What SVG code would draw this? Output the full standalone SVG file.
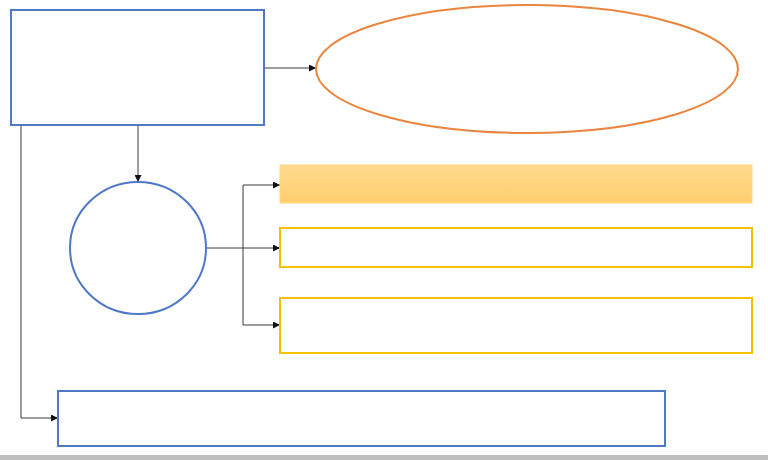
<svg xmlns="http://www.w3.org/2000/svg" width="768" height="460" viewBox="0 0 768 460">
  <defs>
    <marker id="arrow" viewBox="0 0 10 10" refX="10" refY="5" markerWidth="7" markerHeight="7" markerUnits="userSpaceOnUse" orient="auto">
      <path d="M0,0 L10,5 L0,10 z" fill="#111"/>
    </marker>
    <linearGradient id="barFill" x1="0" y1="0" x2="0" y2="1">
      <stop offset="0" stop-color="#FFD98E"/>
      <stop offset="1" stop-color="#FFCE6E"/>
    </linearGradient>
    <style>
      .blue { fill: #fff; stroke: #4F78C6; stroke-width: 2; }
      .orange { fill: #fff; stroke: #E9853F; stroke-width: 2; }
      .yellow { fill: #fff; stroke: #F2C200; stroke-width: 2; }
      .link { fill: none; stroke: #3a3a3a; stroke-width: 1; }
    </style>
  </defs>
  <rect width="768" height="460" fill="#fff"/>
  <rect x="0" y="455" width="768" height="5" fill="#bfbfbf"/>

  <g id="connectors">
    <path class="link" d="M264,68 H316" marker-end="url(#arrow)"/>
    <path class="link" d="M138,125 V182" marker-end="url(#arrow)"/>
    <path class="link" d="M21,125 V418 H58" marker-end="url(#arrow)"/>
    <path class="link" d="M206,248 H243"/>
    <path class="link" d="M243,185 V325"/>
    <path class="link" d="M243,185 H280" marker-end="url(#arrow)"/>
    <path class="link" d="M243,248 H280" marker-end="url(#arrow)"/>
    <path class="link" d="M243,325 H280" marker-end="url(#arrow)"/>
  </g>

  <g id="top-box"><rect class="blue" x="11" y="10" width="253" height="115"/></g>
  <g id="ellipse"><ellipse class="orange" cx="527" cy="69" rx="211" ry="64"/></g>
  <g id="circle"><ellipse class="blue" cx="138" cy="248" rx="68" ry="66"/></g>
  <g id="bar-1"><rect x="280" y="165" width="472" height="38" fill="url(#barFill)" stroke="#FBD688" stroke-width="1"/></g>
  <g id="bar-2"><rect class="yellow" x="280" y="228" width="472" height="39"/></g>
  <g id="bar-3"><rect class="yellow" x="280" y="298" width="472" height="55"/></g>
  <g id="bottom-box"><rect class="blue" x="58" y="391" width="607" height="55"/></g>
</svg>
